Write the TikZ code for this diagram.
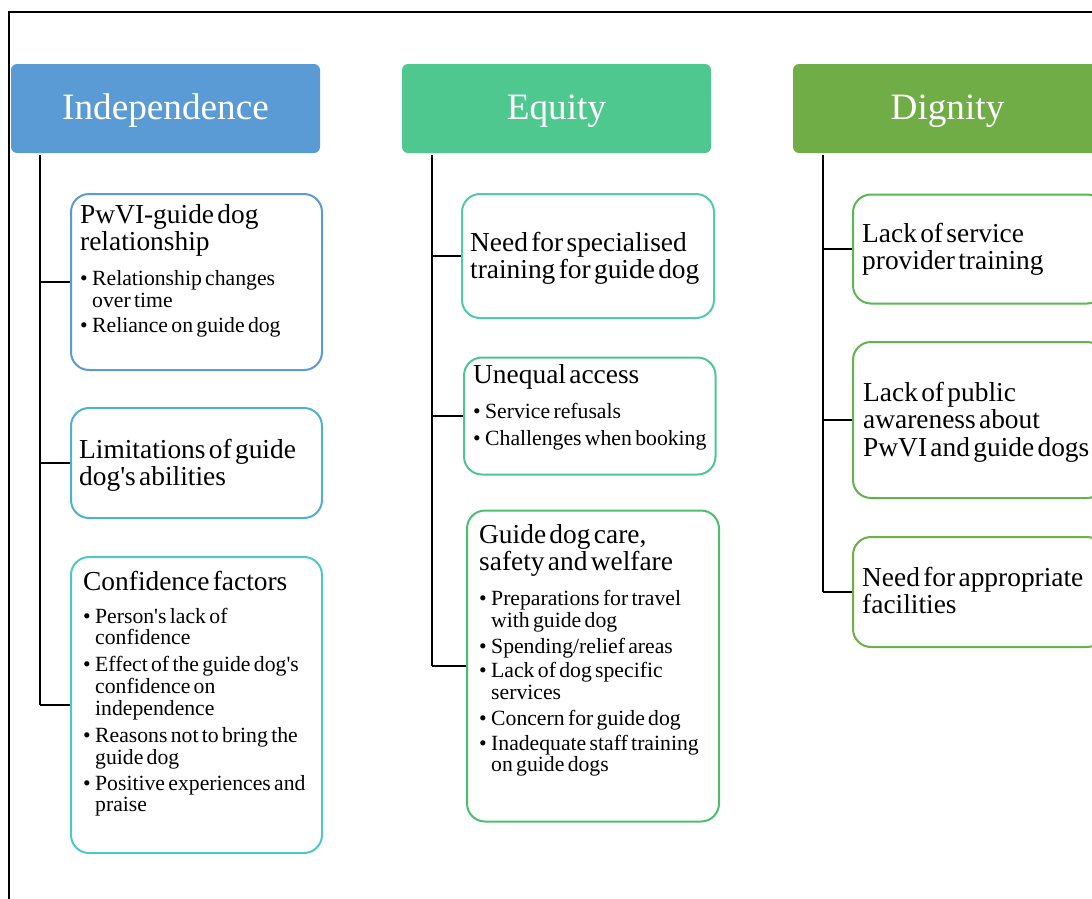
\documentclass[tikz,border=0pt]{standalone}
\usepackage{fontspec}
\setmainfont{Liberation Serif}
\definecolor{cInd}{HTML}{5B9BD5}
\definecolor{cLim}{HTML}{4FB0D0}
\definecolor{cConf}{HTML}{4FC6CC}
\definecolor{cEq}{HTML}{4FC890}
\definecolor{cNeed}{HTML}{4FCBAB}
\definecolor{cUneq}{HTML}{4DC693}
\definecolor{cCare}{HTML}{4CBE70}
\definecolor{cDig}{HTML}{70AD47}
\definecolor{cD1}{HTML}{5AB850}
\definecolor{cD2}{HTML}{62B34D}
\definecolor{cD3}{HTML}{6DAF48}
\newcommand\ttl{\fontsize{27.4}{27.5}\selectfont}
\newcommand\bfnt{\fontsize{21.7}{21.7}\selectfont}
\newcommand\tstr{\rule{0pt}{20pt}}
\newcommand\sq{\textquotesingle}
\newcommand\bitem[2][4.5pt]{\par\vspace{#1}\hangindent=12pt\hangafter=1\noindent\makebox[12pt][l]{•}#2\par}
\setlength\parskip{0pt}
\tikzset{
  head/.style={draw=none, rounded corners=6pt, minimum width=309pt, minimum height=89pt, inner sep=0pt},
  headtext/.style={anchor=base, text=white, font=\fontsize{37.2}{40}\selectfont, inner sep=0pt},
  cbox/.style={draw, fill=white, line width=2pt, rounded corners=18pt, inner sep=0pt},
  txt/.style={anchor=north west, inner sep=0pt, text width=320pt},
  spine/.style={line width=2.2pt, black},
  branch/.style={line width=2.4pt, black},
  frame/.style={line width=1.3pt, black},
}
\begin{document}
\begin{tikzpicture}[x=1pt, y=-1pt]
\useasboundingbox (0,0) rectangle (1092,898);
\clip (0,0) rectangle (1092,898);
% frame
\coordinate (f1) at (9,905);
\coordinate (f2) at (9,12);
\coordinate (f3) at (1100,12);
\draw[frame] (f1) -- (f2) -- (f3);

% headers
\node[head, fill=cInd] (hI) at (165.5,108.5) {};
\node[head, fill=cEq] (hE) at (556.5,108.5) {};
\node[head, fill=cDig] (hD) at (947.5,108.5) {};
\node[headtext] (hIt) at (165.5,119) {Independence};
\node[headtext] (hEt) at (556.5,119) {Equity};
\node[headtext] (hDt) at (947.5,119) {Dignity};

% spine coordinates
\coordinate (sI) at (40,155);
\coordinate (sE) at (432,155);
\coordinate (sD) at (823,155);

% Independence boxes
\node[cbox, draw=cInd, minimum width=251pt, minimum height=176pt] (b1) at (196.5,282) {};
\node[cbox, draw=cLim, minimum width=251pt, minimum height=110pt] (b2) at (196.5,463) {};
\node[cbox, draw=cConf, minimum width=251pt, minimum height=296pt] (b3) at (196.5,705) {};

% Equity boxes
\node[cbox, draw=cNeed, minimum width=252pt, minimum height=124pt] (e1) at (588,256) {};
\node[cbox, draw=cUneq, minimum width=251.5pt, minimum height=117pt] (e2) at (589.75,416) {};
\node[cbox, draw=cCare, minimum width=252pt, minimum height=311pt] (e3) at (593,666) {};

% Dignity boxes
\node[cbox, draw=cD1, minimum width=252pt, minimum height=109pt] (d1) at (979,249) {};
\node[cbox, draw=cD2, minimum width=252pt, minimum height=156pt] (d2) at (979,420) {};
\node[cbox, draw=cD3, minimum width=252pt, minimum height=110pt] (d3) at (979,592) {};

% connectors
\draw[spine] (sI) -- (sI |- b3.west);
\draw[branch] (sI |- b3.west) -- (b3.west);
\draw[branch] (sI |- b1.west) -- (b1.west);
\draw[branch] (sI |- b2.west) -- (b2.west);
\draw[spine] (sE) -- (sE |- e3.west);
\draw[branch] (sE |- e3.west) -- (e3.west);
\draw[branch] (sE |- e1.west) -- (e1.west);
\draw[branch] (sE |- e2.west) -- (e2.west);
\draw[spine] (sD) -- (sD |- d3.west);
\draw[branch] (sD |- d3.west) -- (d3.west);
\draw[branch] (sD |- d1.west) -- (d1.west);
\draw[branch] (sD |- d2.west) -- (d2.west);

% texts
\node[txt] (tI1) at (80,203) {{\ttl\tstr PwVI-guide dog\newline relationship\par}\bfnt
  \bitem[13.3pt]{Relationship changes\newline over time}
  \bitem[3.3pt]{Reliance on guide dog}};
\node[txt] (tI2) at (79,438) {{\ttl\tstr Limitations of guide\newline dog\sq s abilities\par}};
\node[txt] (tI3) at (83,570) {{\ttl\tstr Confidence factors\par}\bfnt
  \bitem[11.3pt]{Person\sq s lack of\newline confidence}
  \bitem[5.3pt]{Effect of the guide dog\sq s\newline confidence on\newline independence}
  \bitem[5.3pt]{Reasons not to bring the\newline guide dog}
  \bitem[4.5pt]{Positive experiences and\newline praise}};

\node[txt] (tE1) at (470,231) {{\ttl\tstr Need for specialised\newline training for guide dog\par}};
\node[txt] (tE2) at (473,363) {{\ttl\tstr Unequal access\par}\bfnt
  \bitem[13.3pt]{Service refusals}
  \bitem[5.3pt]{Challenges when booking}};
\node[txt] (tE3) at (479,523) {{\ttl\tstr Guide dog care,\newline safety and welfare\par}\bfnt
  \bitem[13.3pt]{Preparations for travel\newline with guide dog}
  \bitem[4.3pt]{Spending/relief areas}
  \bitem[2.3pt]{Lack of dog specific\newline services}
  \bitem[4.3pt]{Concern for guide dog}
  \bitem[3.3pt]{Inadequate staff training\newline on guide dogs}};

\node[txt] (tD1) at (862,222) {{\ttl\tstr Lack of service\newline provider training\par}};
\node[txt] (tD2) at (863,381) {{\ttl\tstr Lack of public\newline awareness about\newline PwVI and guide dogs\par}};
\node[txt] (tD3) at (862,566) {{\ttl\tstr Need for appropriate\newline facilities\par}};
\end{tikzpicture}
\end{document}
